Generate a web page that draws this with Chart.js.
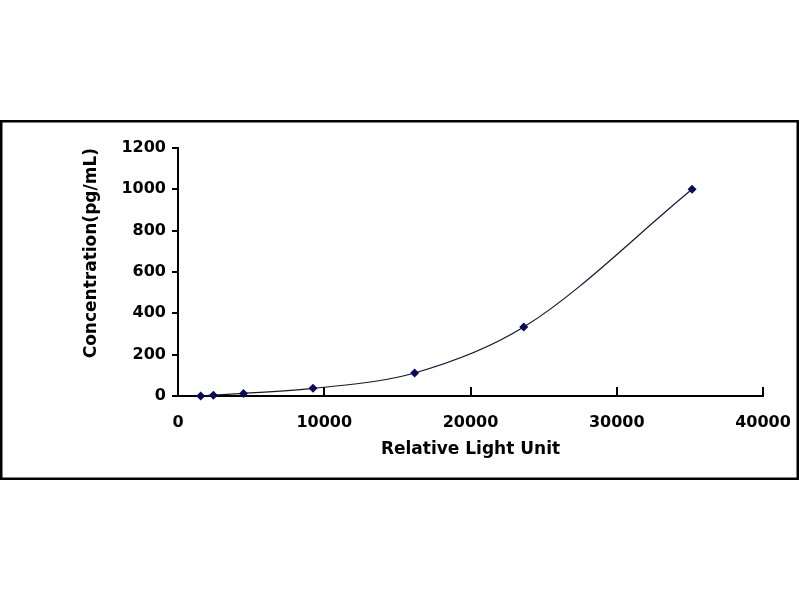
<!DOCTYPE html>
<html>
<head>
<meta charset="utf-8">
<script src="https://cdn.jsdelivr.net/npm/chart.js@4"></script>
<style>
  html, body { margin: 0; padding: 0; background: #fff; }
  #wrap { width: 800px; height: 600px; }
</style>
</head>
<body>
<div id="wrap"><canvas id="curve" width="800" height="600"></canvas></div>
<script>
// standard curve values
const rlu = [1550, 2420, 4480, 9230, 16180, 23640, 35150];
const concentration = [0, 4.12, 12.35, 37.04, 111.11, 333.33, 1000];
const xTicks = [0, 10000, 20000, 30000, 40000];
const yTicks = [0, 200, 400, 600, 800, 1000, 1200];

const navy = "#0b0b5c";

// outer frame round the whole figure
const framePlugin = {
  id: "frame",
  beforeDraw(chart) {
    const ctx = chart.ctx;
    ctx.save();
    ctx.fillStyle = "#fff";
    ctx.fillRect(0, 0, chart.width, chart.height);
    ctx.strokeStyle = "#000";
    ctx.lineWidth = 2.5;
    ctx.strokeRect(1.25, 121.25, 796.5, 357.5);
    ctx.restore();
  },
};

// x ticks point up into the plot
const innerTicks = {
  id: "innerTicks",
  afterDatasetsDraw(chart) {
    const ctx = chart.ctx;
    const scale = chart.scales.x;
    const bottom = chart.chartArea.bottom;
    ctx.save();
    ctx.strokeStyle = "#000";
    ctx.lineWidth = 2;
    xTicks.forEach((v) => {
      if (v === 0) return;
      const px = Math.round(scale.getPixelForValue(v));
      ctx.beginPath();
      ctx.moveTo(px, bottom);
      ctx.lineTo(px, bottom - 9);
      ctx.stroke();
    });
    ctx.restore();
  },
};

const tickFont = { family: "DejaVu Sans", size: 16, weight: "bold" };
const plain = (v) => String(v);

new Chart(document.getElementById("curve").getContext("2d"), {
  type: "scatter",
  data: {
    datasets: [
      {
        data: rlu.map((x, i) => ({ x: x, y: concentration[i] })),
        showLine: true,
        cubicInterpolationMode: "monotone",
        borderColor: "#15153a",
        borderWidth: 1.2,
        pointStyle: "rectRot",
        pointRadius: 4.5,
        pointBackgroundColor: navy,
        pointBorderColor: navy,
        pointBorderWidth: 0,
        clip: false,
      },
    ],
  },
  options: {
    responsive: false,
    animation: false,
    layout: { padding: { left: 60, right: 37, top: 148, bottom: 130 } },
    plugins: {
      legend: { display: false },
      tooltip: { enabled: false },
    },
    scales: {
      x: {
        type: "linear",
        min: 0,
        max: 40000,
        afterBuildTicks: (s) => { s.ticks = xTicks.map((v) => ({ value: v })); },
        afterFit: (s) => {
          s.height = 74;
          s.paddingLeft = 0;
          s.paddingRight = 0;
        },
        grid: { display: true, drawOnChartArea: false, drawTicks: false },
        border: { display: true, color: "#000", width: 2 },
        ticks: { color: "#000", font: tickFont, padding: 17, maxRotation: 0, callback: plain },
        title: {
          display: true,
          text: "Relative Light Unit",
          color: "#000",
          font: { family: "DejaVu Sans", size: 17, weight: "bold" },
          padding: { top: 0, bottom: 10 },
        },
      },
      y: {
        type: "linear",
        min: 0,
        max: 1200,
        afterBuildTicks: (s) => { s.ticks = yTicks.map((v) => ({ value: v })); },
        afterFit: (s) => { s.width = 118; },
        grid: {
          display: true,
          drawOnChartArea: false,
          drawTicks: true,
          tickLength: 6,
          color: "#000",
          lineWidth: 2,
        },
        border: { display: true, color: "#000", width: 2 },
        ticks: { color: "#000", font: tickFont, padding: 6, callback: plain },
        title: {
          display: true,
          text: "Concentration(pg/mL)",
          align: "end",
          color: "#000",
          font: { family: "DejaVu Sans", size: 17, weight: "bold" },
          padding: { top: 21, bottom: 0 },
        },
      },
    },
  },
  plugins: [framePlugin, innerTicks],
});
</script>
</body>
</html>
